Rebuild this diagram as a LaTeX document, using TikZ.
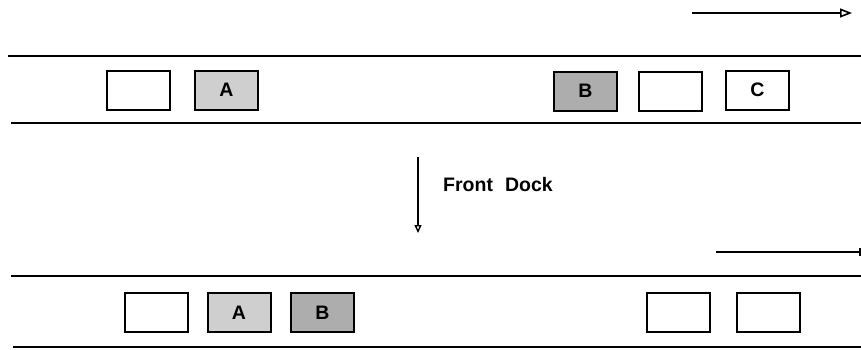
\documentclass[tikz,border=0pt]{standalone}
\usepackage{fontspec}
\setmainfont{Liberation Sans}
\usetikzlibrary{arrows.meta}
\begin{document}
\begin{tikzpicture}[x=1pt,y=-1pt,
  rail/.style={line width=2.2pt},
  slot/.style={draw,line width=2pt,minimum width=63pt,minimum height=39pt,inner sep=0pt,
    font=\fontsize{19.5}{21}\selectfont\bfseries},
  lightcar/.style={slot,fill=black!19},
  darkcar/.style={slot,fill=black!32},
  flow/.style={line width=1.8pt,-{Triangle[open,length=12pt,width=9pt,line width=1.6pt]}},
  dockflow/.style={line width=1.7pt,-{Triangle[open,length=8pt,width=7pt,line width=1.4pt]}}]
\useasboundingbox (0,0) rectangle (861,349);

% direction of travel
\coordinate (dirL) at (692,13);
\coordinate (dirR) at (852,13);
\draw[flow] (dirL) -- (dirR);

% upper track
\coordinate (t1L) at (8,56);   \coordinate (t1R) at (861,56);
\coordinate (t2L) at (11,123); \coordinate (t2R) at (861,123);
\draw[rail] (t1L) -- (t1R);
\draw[rail] (t2L) -- (t2R);

\node[slot]      (u1) at (138.5,90) {};
\node[lightcar]  (uA) at (226.5,90) {A};
\node[darkcar]   (uB) at (585.5,91) {B};
\node[slot]      (u2) at (670.5,91) {};
\node[slot]      (uC) at (757.5,90) {C};

% move to the front dock
\coordinate (dkT) at (418,157);
\coordinate (dkB) at (418,233);
\draw[dockflow] (dkT) -- (dkB);
\node[anchor=west,inner sep=0pt,font=\fontsize{19.5}{21}\selectfont\bfseries] (dk) at (443,185) {Front\hspace{12pt}Dock};

% exit line
\coordinate (exL) at (716,252);
\coordinate (exR) at (861,252);
\draw[rail,line width=2pt] (exL) -- (exR);
\draw[line width=1.2pt] (860,248) -- (860,256);

% lower track
\coordinate (t3L) at (11,276); \coordinate (t3R) at (861,276);
\coordinate (t4L) at (13,347); \coordinate (t4R) at (861,347);
\draw[rail] (t3L) -- (t3R);
\draw[rail] (t4L) -- (t4R);

\node[slot]      (l1) at (156,312.5) {};
\node[lightcar]  (lA) at (239,312.5) {A};
\node[darkcar]   (lB) at (322.5,312.5) {B};
\node[slot]      (l2) at (678.5,312) {};
\node[slot]      (l3) at (768,312.5) {};
\end{tikzpicture}
\end{document}
